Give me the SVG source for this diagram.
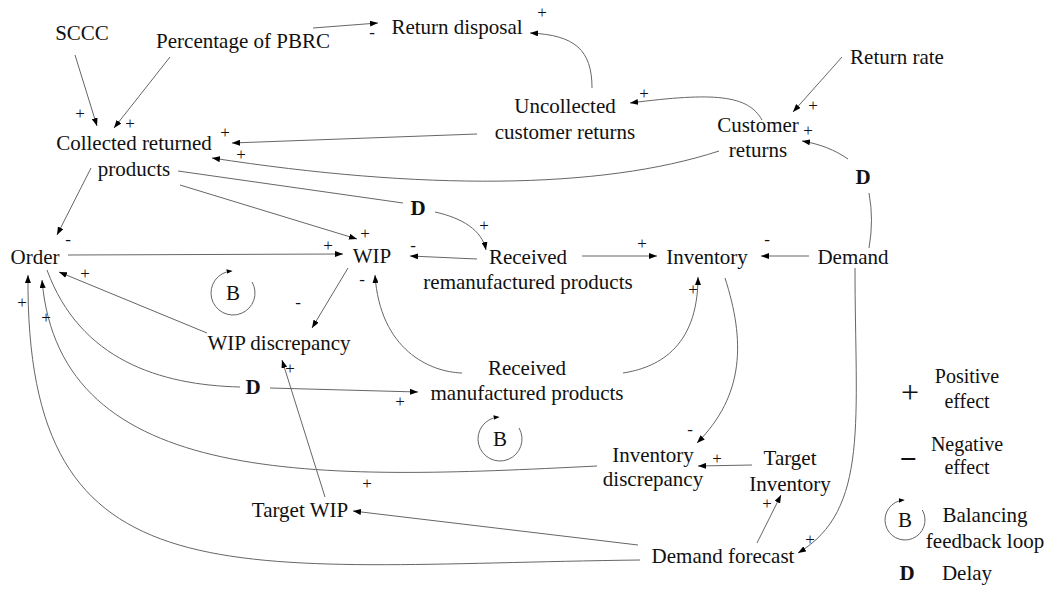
<svg xmlns="http://www.w3.org/2000/svg" width="1047" height="596" viewBox="0 0 1047 596">
<defs>
<marker id="ah" viewBox="0 0 8 6" refX="8" refY="3" markerWidth="8" markerHeight="6" markerUnits="userSpaceOnUse" orient="auto"><path d="M0,0 L8,3 L0,6 z" fill="#000"/></marker>
<marker id="ahs" viewBox="0 0 8 6" refX="6" refY="3" markerWidth="6" markerHeight="5" markerUnits="userSpaceOnUse" orient="auto"><path d="M0,0 L8,3 L0,6 z" fill="#000"/></marker>
</defs>
<style>
text{font-family:"Liberation Serif","Times New Roman",serif;fill:#111;}
.n{font-size:21px;text-anchor:middle;}
.d{font-size:21px;font-weight:bold;text-anchor:middle;}
.s{font-size:17px;text-anchor:middle;}
.l{font-size:20px;text-anchor:middle;}
.c{fill:none;stroke:#666;stroke-width:1;marker-end:url(#ah);}
.p{fill:none;stroke:#666;stroke-width:1;}
.loop{fill:none;stroke:#666;stroke-width:1;marker-end:url(#ahs);}
</style>
<rect width="1047" height="596" fill="#fff"/>
<g id="connectors">
<path class="c" d="M75,55 L97,126"/>
<path class="c" d="M170,57 L114,128"/>
<path class="c" d="M313,28 L378,23"/>
<path class="c" d="M592,88 C592,50 575,35 530,33"/>
<path class="c" d="M762,120 C748,95 715,92 630,103"/>
<path class="c" d="M842,57 L793,112"/>
<path class="p" d="M869,248 Q874,220 869,193"/>
<path class="c" d="M848,159 C835,150 820,144 802,141"/>
<path class="c" d="M477,134 L232,143"/>
<path class="c" d="M719,151 C600,190 420,190 212,158"/>
<path class="c" d="M180,185 L357,239"/>
<path class="p" d="M178,171 L403,203"/>
<path class="c" d="M435,212 C462,218 482,230 486,250"/>
<path class="c" d="M91,168 L57,235"/>
<path class="c" d="M68,255 L343,254"/>
<path class="c" d="M477,259 L410,256"/>
<path class="c" d="M582,256 L657,256"/>
<path class="c" d="M809,256 L761,256"/>
<path class="c" d="M348,268 L312,328"/>
<path class="c" d="M462,373 C430,372 380,350 375,275"/>
<path class="c" d="M623,373 C655,368 698,350 698,277"/>
<path class="c" d="M207,333 L59,272"/>
<path class="p" d="M47,270 C80,360 160,385 240,387"/>
<path class="c" d="M270,388 L418,392"/>
<path class="c" d="M725,278 C745,340 745,395 697,443"/>
<path class="c" d="M752,465 L698,466"/>
<path class="c" d="M597,466 C320,480 60,490 42,280"/>
<path class="c" d="M640,560 C230,565 25,610 28,275"/>
<path class="c" d="M638,545 L353,511"/>
<path class="c" d="M757,543 L781,495"/>
<path class="c" d="M855,268 C855,420 870,510 798,553"/>
<path class="c" d="M325,497 L282,360"/>
</g>
<g id="polarities">
<text class="s" x="80" y="119">+</text>
<text class="s" x="130" y="129">+</text>
<text class="s" x="225" y="138">+</text>
<text class="s" x="241" y="160">+</text>
<text class="s" x="542" y="18">+</text>
<text class="s" x="644" y="99">+</text>
<text class="s" x="813" y="111">+</text>
<text class="s" x="808" y="136">+</text>
<text class="s" x="365" y="239">+</text>
<text class="s" x="328" y="251">+</text>
<text class="s" x="484" y="231">+</text>
<text class="s" x="642" y="249">+</text>
<text class="s" x="693" y="295">+</text>
<text class="s" x="85" y="279">+</text>
<text class="s" x="22" y="308">+</text>
<text class="s" x="46" y="323">+</text>
<text class="s" x="290" y="374">+</text>
<text class="s" x="400" y="407">+</text>
<text class="s" x="367" y="489">+</text>
<text class="s" x="717" y="464">+</text>
<text class="s" x="767" y="509">+</text>
<text class="s" x="810" y="545">+</text>
<text class="s" x="372" y="38">-</text>
<text class="s" x="68" y="245">-</text>
<text class="s" x="413" y="251">-</text>
<text class="s" x="362" y="285">-</text>
<text class="s" x="298" y="308">-</text>
<text class="s" x="767" y="245">-</text>
<text class="s" x="690" y="435">-</text>
</g>
<g id="delays">
<text class="d" x="418" y="215">D</text>
<text class="d" x="253" y="394">D</text>
<text class="d" x="863" y="184">D</text>
</g>
<g id="loops">
<g id="loop1"><path class="loop" d="M252.05,282 A22,22 0 1 1 231.09,271.09"/><text class="n" x="233" y="300">B</text></g>
<g id="loop2"><path class="loop" d="M519.05,428 A22,22 0 1 1 498.09,417.09"/><text class="n" x="500" y="446">B</text></g>
</g>
<g id="n-sccc"><text class="n" x="82" y="40">SCCC</text></g>
<g id="n-pbrc"><text class="n" x="243" y="48">Percentage of PBRC</text></g>
<g id="n-disposal"><text class="n" x="457" y="34">Return disposal</text></g>
<g id="n-returnrate"><text class="n" x="897" y="64">Return rate</text></g>
<g id="n-uncollected"><text class="n" x="565" y="113">Uncollected</text><text class="n" x="565" y="139">customer returns</text></g>
<g id="n-customer"><text class="n" x="758" y="132">Customer</text><text class="n" x="758" y="157">returns</text></g>
<g id="n-collected"><text class="n" x="134" y="150">Collected returned</text><text class="n" x="134" y="176">products</text></g>
<g id="n-order"><text class="n" x="35" y="264">Order</text></g>
<g id="n-wip"><text class="n" x="372" y="263">WIP</text></g>
<g id="n-reman"><text class="n" x="528" y="264">Received</text><text class="n" x="528" y="289">remanufactured products</text></g>
<g id="n-inventory"><text class="n" x="707" y="264">Inventory</text></g>
<g id="n-demand"><text class="n" x="853" y="264">Demand</text></g>
<g id="n-wipdisc"><text class="n" x="279" y="350">WIP discrepancy</text></g>
<g id="n-man"><text class="n" x="527" y="375">Received</text><text class="n" x="527" y="400">manufactured products</text></g>
<g id="n-invdisc"><text class="n" x="653" y="462">Inventory</text><text class="n" x="653" y="486">discrepancy</text></g>
<g id="n-targetinv"><text class="n" x="790" y="465">Target</text><text class="n" x="790" y="491">Inventory</text></g>
<g id="n-targetwip"><text class="n" x="300" y="517">Target WIP</text></g>
<g id="n-forecast"><text class="n" x="723" y="563">Demand forecast</text></g>
<g id="legend">
<text x="910" y="403" style="font-size:32px;text-anchor:middle">+</text>
<text class="l" x="967" y="383">Positive</text>
<text class="l" x="967" y="408">effect</text>
<text x="908" y="469" style="font-size:30px;font-weight:bold;text-anchor:middle">−</text>
<text class="l" x="967" y="451">Negative</text>
<text class="l" x="967" y="474">effect</text>
<path class="loop" d="M922.32,510 A20,20 0 1 1 903.26,500.08"/>
<text class="n" x="905" y="527">B</text>
<text class="n" x="985" y="522">Balancing</text>
<text class="n" x="985" y="548">feedback loop</text>
<text class="d" x="907" y="580">D</text>
<text class="n" x="967" y="580">Delay</text>
</g>
</svg>
